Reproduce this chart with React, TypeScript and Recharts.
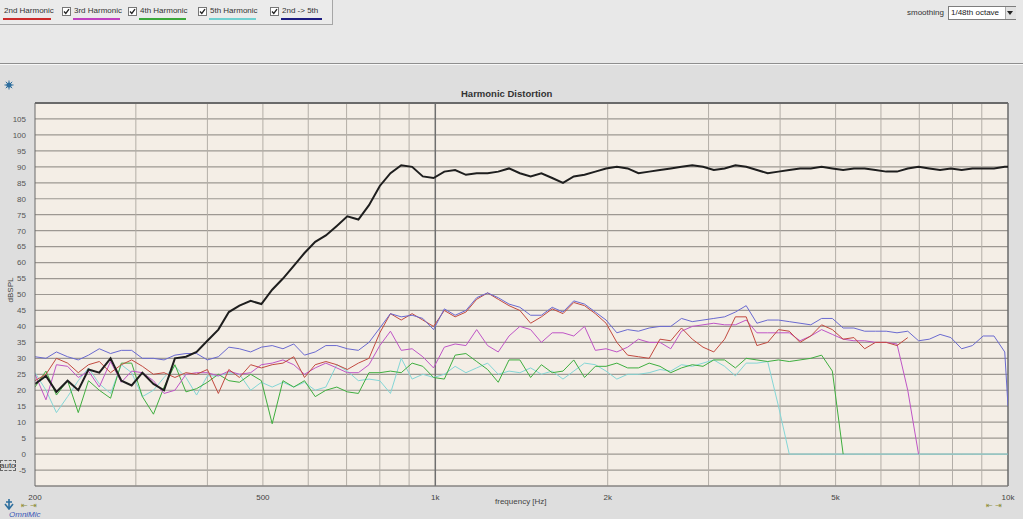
import React from "react"
import { LineChart, Line, XAxis, YAxis, CartesianGrid, ReferenceLine } from "recharts"

// frequency points (Hz), roughly 1/16 octave apart
const freqs = [
  200, 209, 218, 228, 238, 248, 259, 271, 283, 295, 308, 322, 336, 351, 367, 383,
  400, 418, 436, 455, 476, 497, 519, 542, 566, 591, 617, 644, 673, 702, 734, 766,
  800, 835, 872, 911, 951, 993, 1037, 1083, 1131, 1181, 1234, 1288, 1345, 1405, 1467, 1532,
  1600, 1671, 1745, 1822, 1903, 1987, 2075, 2167, 2263, 2363, 2468, 2577, 2691, 2810, 2934, 3064,
  3200, 3342, 3490, 3644, 3805, 3974, 4150, 4334, 4525, 4726, 4935, 5154, 5382, 5620, 5869, 6129,
  6400, 6683, 6979, 7288, 7611, 7948, 8300, 8667, 9051, 9452, 9870, 10000,
]

// fundamental (black)
const fundamental = [
  22, 24.5, 19.5, 23, 20, 26.5, 25.5, 30, 23, 21.5, 25.5, 22, 20, 30, 30.5, 32,
  35.5, 39, 44.5, 46.5, 48, 47, 51.5, 55, 59, 63, 66.5, 68.5, 71.5, 74.5, 73.5, 78,
  84, 88, 90.5, 90, 87, 86.5, 88.5, 89, 87.5, 88, 88, 88.5, 89.5, 88, 87, 88,
  86.5, 85, 87, 87.5, 88.5, 89.5, 90, 89.5, 88, 88.5, 89, 89.5, 90, 90.5, 90, 89,
  89.5, 90.5, 90, 89, 88, 88.5, 89, 89.5, 89.5, 90, 89.5, 89, 89.5, 89.5, 89, 88.5,
  88.5, 89.5, 90, 89.5, 89, 89.5, 89, 89.5, 89.5, 89.5, 90, 90,
]

const secondH = [
  23, 25, 30, 28.5, 25.5, 28, 29, 25.5, 28, 29.5, 27.5, 25, 25.5, 24, 25.5, 25,
  26.5, 19, 26.5, 24, 28, 27, 28, 28.5, 30.5, 24, 28, 29, 28, 26.5, 28.5, 30,
  38, 44, 42, 44, 42, 40, 45, 43, 44.5, 48.5, 50.5, 48.5, 46.5, 45, 41, 43,
  45.5, 44, 47.5, 46.5, 44, 41, 35, 31, 30.5, 30, 36, 35.5, 39.5, 36, 33.5, 32,
  36, 43, 43, 34, 35, 39, 38.5, 35, 37, 40.5, 39, 36, 36.5, 33, 35, 35,
  34, 36.5,
]

const thirdH = [
  25, 17, 28, 27.5, 24, 26, 21, 29, 22.5, 26, 25.5, 23, 19, 20, 25, 25.5,
  25.5, 24.5, 26, 25, 25.5, 28, 28.5, 29.5, 28, 25, 27, 28.5, 27, 25.5, 25.5, 28,
  34, 38.5, 32.5, 33, 30.5, 27, 33.5, 34.5, 34, 39, 34, 32, 37, 40, 39, 35,
  38, 38, 37, 40, 32.5, 33, 32, 33.5, 36, 35, 35, 33, 38.5, 40, 40.5, 41,
  40.5, 40.5, 42, 38, 38, 38, 38, 35.5, 37, 39, 37.5, 36, 35.5, 35.5, 35, 35,
  34.5, 20, 0,
]

const fourthH = [
  21, 26, 18.5, 23, 13, 23, 20, 17.5, 28.5, 28.5, 18, 12.5, 21, 28, 19.5, 20.5,
  22.5, 25, 23, 22.5, 25, 23, 9.5, 23, 21, 23, 18, 20, 21, 19.5, 19, 25.5,
  25.5, 26, 25.5, 28.5, 27.5, 24, 23.5, 31, 31.5, 29, 26.5, 22.5, 29.5, 29.5, 24, 28,
  25.5, 26, 29.5, 24, 27.5, 27.5, 28.5, 27, 27, 28.5, 27.5, 25.5, 27, 28, 27.5, 29.5,
  29.5, 27, 30, 29.5, 29, 29.5, 29, 29.5, 30, 31, 26, 0,
]

const fifthH = [
  25.5, 20, 13, 18, 23, 27, 22, 19, 28, 25.5, 18, 20, 24, 27.5, 24, 18.5,
  24.5, 24.5, 25.5, 25, 20, 22.5, 21, 22.5, 21, 22.5, 20, 21, 28, 26, 23, 23.5,
  23, 19, 30, 23.5, 25, 24, 25, 27.5, 25.5, 27, 28.5, 25, 26, 25.5, 27, 25,
  26, 23.5, 26, 28.5, 28, 26, 23.5, 25, 25, 25.5, 26.5, 26, 28, 27.5, 28.5, 29.5,
  27.5, 24.5, 28.5, 28.5, 29, 15, 0, 0, 0, 0, 0, 0, 0, 0, 0, 0,
  0, 0, 0, 0, 0, 0, 0, 0, 0, 0, 0, 0,
]

// 2nd -> 5th combined
const sumH = [
  30.5, 30, 32, 30.5, 29.5, 31, 33, 31.5, 32.5, 32.5, 30, 30, 29.5, 31, 31.5, 31.5,
  29.5, 30.5, 33.5, 33, 32, 33.5, 34, 33, 34.5, 31, 32, 34, 34, 33, 32.5, 35,
  39.5, 44, 43, 43.5, 42.5, 39, 45.5, 43.5, 45, 49, 50.5, 49, 47, 46, 43.5, 43.5,
  46, 44.5, 48, 47, 44.5, 42, 38, 39, 38.5, 39.5, 40, 40, 42.5, 41.5, 42, 42.5,
  43, 44.5, 46.5, 41, 42, 42, 41.5, 41, 40.5, 42.5, 42.5, 39.5, 39.5, 38.5, 38.5, 38.5,
  38, 38.5, 35.5, 36, 37.5, 36.5, 33, 34, 37, 37, 32, 15,
]

const yTicks = [-5, 0, 5, 10, 15, 20, 25, 30, 35, 40, 45, 50, 55, 60, 65, 70, 75, 80, 85, 90, 95, 100, 105]
const xTicks = [200, 500, 1000, 2000, 5000, 10000]
const gridFreqs = [300, 400, 500, 600, 700, 800, 900, 2000, 3000, 4000, 5000, 6000, 7000, 8000, 9000]

const legendItems = [
  { label: "2nd Harmonic", color: "#cc2a2a", x: 4, w: 48, box: false },
  { label: "3rd Harmonic", color: "#c040c0", x: 74, w: 47, box: true },
  { label: "4th Harmonic", color: "#3aa83a", x: 140, w: 47, box: true },
  { label: "5th Harmonic", color: "#6fd0d0", x: 210, w: 47, box: true },
  { label: "2nd -> 5th", color: "#1c1c80", x: 282, w: 41, box: true },
]

const data = freqs.map((f, i) => ({
  f,
  fund: fundamental[i],
  h2: secondH[i] ?? null,
  h3: thirdH[i] ?? null,
  h4: fourthH[i] ?? null,
  h5: fifthH[i] ?? null,
  sum: sumH[i] ?? null,
}))

const font = "'Liberation Sans', Arial, sans-serif"

const CheckBox = ({ x }: { x: number }) => (
  <svg style={{ position: "absolute", left: x - 10, top: 7 }} width={9} height={9}>
    <rect x={0.5} y={0.5} width={8} height={8} fill="#fff" stroke="#777" />
    <path d="M2 4.5 L3.8 6.5 L7 2.2" stroke="#222" strokeWidth={1.3} fill="none" />
  </svg>
)

const Txt = ({ x, y, size = 8, color = "#333", children, style }: any) => (
  <div style={{ position: "absolute", left: x, top: y, fontSize: size, color, lineHeight: 1, whiteSpace: "nowrap", ...style }}>
    {children}
  </div>
)

export default function App() {
  return (
    <div style={{ position: "absolute", left: 0, top: 0, width: 1023, height: 519, background: "#dedede", overflow: "hidden", fontFamily: font }}>
      {/* toolbar */}
      <div style={{ position: "absolute", left: 0, top: 0, width: 1023, height: 63, background: "#e8e8e8", borderBottom: "1px solid #8e8e8e" }} />
      <div style={{ position: "absolute", left: 0, top: 64, width: 1023, height: 1, background: "#f7f7f7" }} />
      <div style={{ position: "absolute", left: 0, top: 0, width: 332, height: 24, background: "#ebebeb", borderRight: "1px solid #a6a6a6", borderBottom: "1px solid #a6a6a6" }} />
      {legendItems.map((it) => (
        <React.Fragment key={it.label}>
          {it.box && <CheckBox x={it.x - 2} />}
          <Txt x={it.x} y={7}>{it.label}</Txt>
          <div style={{ position: "absolute", left: it.x - 1, top: 18, width: it.w, height: 1.5, background: it.color }} />
        </React.Fragment>
      ))}
      <Txt x={907} y={9}>smoothing</Txt>
      <div style={{ position: "absolute", left: 948, top: 6, width: 68, height: 14, background: "#fff", border: "1px solid #7d7d7d", boxSizing: "border-box" }} />
      <Txt x={951} y={9} color="#222">1/48th octave</Txt>
      <div style={{ position: "absolute", left: 1005, top: 7, width: 10, height: 12, background: "#e2e2e2", borderLeft: "1px solid #aaa" }} />
      <svg style={{ position: "absolute", left: 1006, top: 11 }} width={8} height={5}>
        <path d="M1 0 L7 0 L4 4 Z" fill="#222" />
      </svg>

      {/* small settings icon */}
      <svg style={{ position: "absolute", left: 4, top: 80 }} width={10} height={10}>
        <circle cx={5} cy={5} r={2.6} fill="#2e6f9e" />
        <path d="M5 0.5 V9.5 M0.5 5 H9.5 M1.8 1.8 L8.2 8.2 M8.2 1.8 L1.8 8.2" stroke="#2e6f9e" strokeWidth={1} />
      </svg>

      <div style={{ position: "absolute", left: 0, top: 0 }}>
        <LineChart width={1023} height={519} data={data} margin={{ top: 103, right: 15, left: 0, bottom: 0 }}>
          <CartesianGrid vertical={false} stroke="#9d9892" strokeWidth={1.2} fill="#f4eee6" fillOpacity={1} />
          {gridFreqs.map((f) => (
            <ReferenceLine key={f} x={f} stroke="#b3aea7" strokeWidth={1} />
          ))}
          <ReferenceLine x={1000} stroke="#6f6f6f" strokeWidth={1.5} />
          <ReferenceLine x={10000} stroke="#6a6a6a" strokeWidth={1.5} />
          <ReferenceLine y={110} stroke="#6a6a6a" strokeWidth={2} />
          <XAxis
            dataKey="f"
            type="number"
            scale="log"
            domain={[200, 10000]}
            allowDataOverflow
            ticks={xTicks}
            interval={0}
            tickFormatter={(v: number) => (v >= 1000 ? `${v / 1000}k` : `${v}`)}
            tick={{ fontSize: 8, fill: "#444", fontFamily: font }}
            tickLine={false}
            tickMargin={2}
            axisLine={{ stroke: "#7a7a7a" }}
            height={33}
          />
          <YAxis
            type="number"
            domain={[-10, 110]}
            ticks={yTicks}
            interval={0}
            allowDataOverflow
            tick={{ fontSize: 8, fill: "#555", fontFamily: font }}
            tickLine={false}
            tickMargin={3}
            axisLine={{ stroke: "#6a6a6a" }}
            width={35}
          />
          <Line dataKey="h5" stroke="#84d6d6" strokeWidth={1} dot={false} isAnimationActive={false} />
          <Line dataKey="h4" stroke="#3fae3f" strokeWidth={1} dot={false} isAnimationActive={false} />
          <Line dataKey="h3" stroke="#bf55c6" strokeWidth={1} dot={false} isAnimationActive={false} />
          <Line dataKey="h2" stroke="#c24a40" strokeWidth={1} dot={false} isAnimationActive={false} />
          <Line dataKey="sum" stroke="#6a6ad0" strokeWidth={1} dot={false} isAnimationActive={false} />
          <Line dataKey="fund" stroke="#1e1e1e" strokeWidth={2} dot={false} isAnimationActive={false} />
        </LineChart>
      </div>

      {/* chart texts */}
      <Txt x={461} y={89} size={9.5} color="#333" style={{ fontWeight: "bold" }}>Harmonic Distortion</Txt>
      <Txt x={-1} y={286} color="#444" style={{ transform: "rotate(-90deg)" }}>dBSPL</Txt>
      <div style={{ position: "absolute", left: 0, top: 460, width: 16, height: 11, border: "1px dashed #666", boxSizing: "border-box" }} />
      <Txt x={0} y={462} color="#333">auto</Txt>
      <Txt x={495} y={498} color="#444">frequency [Hz]</Txt>

      {/* bottom controls */}
      <svg style={{ position: "absolute", left: 4, top: 499 }} width={10} height={11}>
        <path d="M5 0 V9 M1 5 L5 10 L9 5 M2 3 H8" stroke="#2e6f9e" strokeWidth={1.6} fill="none" />
      </svg>
      <Txt x={21} y={502} size={8} color="#8f8f3c" style={{ fontFamily: "'DejaVu Sans'" }}>⇤ ⇥</Txt>
      <Txt x={986} y={502} size={8} color="#8f8f3c" style={{ fontFamily: "'DejaVu Sans'" }}>⇤ ⇥</Txt>
      <Txt x={9} y={511} color="#3a58b8" style={{ fontStyle: "italic" }}>OmniMic</Txt>
    </div>
  )
}
